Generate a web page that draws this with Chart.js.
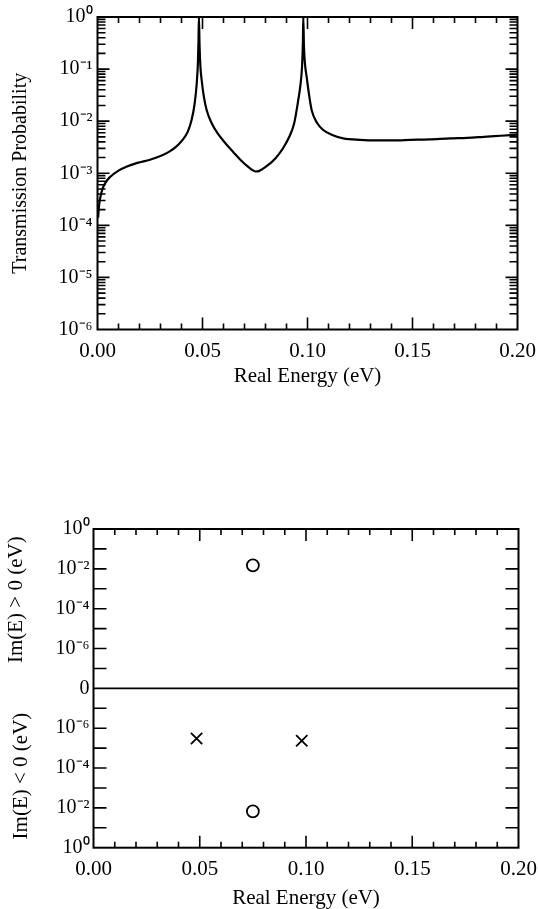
<!DOCTYPE html>
<html><head><meta charset="utf-8">
<script src="https://cdn.jsdelivr.net/npm/chart.js@4"></script>
<style>
html,body{margin:0;padding:0;background:#fff;width:538px;height:909px;overflow:hidden;}
canvas{position:absolute;left:0;}
#c1{top:0;}
#c2{top:440px;}
</style></head><body>
<canvas id="c1" width="538" height="420"></canvas>
<canvas id="c2" width="538" height="469"></canvas>
<script>
// ---------- data ----------
const energy = [0.0003, 0.0008, 0.002, 0.0035, 0.006, 0.010, 0.014, 0.019, 0.025, 0.030, 0.034, 0.0375, 0.0405, 0.043, 0.0448, 0.0462, 0.0472, 0.0478, 0.0481, 0.0483, 0.0486, 0.0490, 0.0496, 0.0506, 0.052, 0.0545, 0.0575, 0.061, 0.0648, 0.0685, 0.0715, 0.0735, 0.0752, 0.0768, 0.0785, 0.081, 0.0848, 0.0882, 0.0912, 0.0936, 0.0955, 0.0966, 0.0974, 0.0978, 0.0980, 0.0983, 0.0988, 0.0996, 0.1007, 0.102, 0.1045, 0.1075, 0.1115, 0.117, 0.125, 0.133, 0.141, 0.149, 0.158, 0.168, 0.176, 0.184, 0.192, 0.200];
const transmission = [1.41e-4, 2.51e-4, 4.47e-4, 6.31e-4, 8.51e-4, 1.12e-3, 1.35e-3, 1.58e-3, 1.82e-3, 2.14e-3, 2.57e-3, 3.24e-3, 4.37e-3, 6.31e-3, 1.05e-2, 2.09e-2, 5.01e-2, 0.126, 0.355, 1.0, 0.282, 0.112, 0.0617, 0.0302, 0.0162, 8.91e-3, 5.62e-3, 3.72e-3, 2.51e-3, 1.74e-3, 1.35e-3, 1.17e-3, 1.08e-3, 1.10e-3, 1.20e-3, 1.41e-3, 1.95e-3, 2.95e-3, 4.90e-3, 8.91e-3, 2.40e-2, 4.79e-2, 0.112, 0.316, 1.0, 0.282, 0.126, 0.0708, 0.0331, 0.0162, 9.33e-3, 6.76e-3, 5.50e-3, 4.68e-3, 4.37e-3, 4.27e-3, 4.27e-3, 4.37e-3, 4.47e-3, 4.68e-3, 4.79e-3, 5.01e-3, 5.25e-3, 5.50e-3];

const xTickValues = [0, 0.05, 0.10, 0.15, 0.20];
const xTickLabels = ['0.00', '0.05', '0.10', '0.15', '0.20'];
const tTickValues = [1e-6, 1e-5, 1e-4, 1e-3, 1e-2, 1e-1, 1];
const tTickLabels = ['10⁻⁶', '10⁻⁵', '10⁻⁴', '10⁻³', '10⁻²', '10⁻¹', '10⁰'];

const poleEnergy = [0.075, 0.075];
const poleImag = [0.015, -0.015];
const zeroEnergy = [0.0485, 0.098];
const zeroImag = [-3.3e-6, -4.3e-6];

const imTickValues = [-8, -7, -6, -5, -4, -3, -2, -1, 0, 1, 2, 3, 4, 5, 6, 7, 8];
const imTickLabels = ['10⁰', '', '10⁻²', '', '10⁻⁴', '', '10⁻⁶', '', '0', '', '10⁻⁶', '', '10⁻⁴', '', '10⁻²', '', '10⁰'];

// ---------- helpers ----------
const SERIF = '"Liberation Serif", "Times New Roman", Times, serif';
Chart.defaults.font.family = SERIF;
Chart.defaults.font.size = 21;
Chart.defaults.color = '#000';

// Im(E) -> symmetric log axis position (0 line = 1e-8)
function imToAxis(v) { return Math.sign(v) * (Math.log10(Math.abs(v)) + 8); }

function drawTick(ctx, x1, y1, x2, y2) { ctx.moveTo(x1, y1); ctx.lineTo(x2, y2); }

function xTicksPlugin(ctx, x, a) {
  for (let i = 1; i < 20; i++) {
    const px = x.getPixelForValue(i / 100);
    const L = (i % 5 === 0) ? 12 : 6;
    drawTick(ctx, px, a.bottom, px, a.bottom - L);
    drawTick(ctx, px, a.top, px, a.top + L);
  }
}

const topFrame = {
  id: 'topFrame',
  afterDatasetsDraw(chart) {
    const {ctx, chartArea: a, scales: {x, y}} = chart;
    ctx.save();
    ctx.strokeStyle = '#000';
    ctx.lineWidth = 1.6;
    ctx.beginPath();
    xTicksPlugin(ctx, x, a);
    for (let d = -6; d < 0; d++) {
      for (let k = 1; k <= 9; k++) {
        if (k === 1 && d === -6) continue;
        const v = k * Math.pow(10, d);
        const py = y.getPixelForValue(v);
        const L = (k === 1) ? 12 : 8;
        drawTick(ctx, a.left, py, a.left + L, py);
        drawTick(ctx, a.right, py, a.right - L, py);
      }
    }
    ctx.stroke();
    ctx.lineWidth = 2;
    ctx.strokeRect(a.left, a.top, a.right - a.left, a.bottom - a.top);
    ctx.restore();
  }
};

const bottomFrame = {
  id: 'bottomFrame',
  afterDatasetsDraw(chart) {
    const {ctx, chartArea: a, scales: {x, y}} = chart;
    ctx.save();
    ctx.strokeStyle = '#000';
    ctx.lineWidth = 1.6;
    ctx.beginPath();
    xTicksPlugin(ctx, x, a);
    for (let v = -7; v <= 7; v++) {
      if (v === 0) continue;
      const py = y.getPixelForValue(v);
      drawTick(ctx, a.left, py, a.left + 13, py);
      drawTick(ctx, a.right, py, a.right - 13, py);
    }
    ctx.stroke();
    const y0 = y.getPixelForValue(0);
    ctx.beginPath();
    ctx.lineWidth = 1.8;
    ctx.moveTo(a.left, y0); ctx.lineTo(a.right, y0);
    ctx.stroke();
    ctx.lineWidth = 2;
    ctx.strokeRect(a.left, a.top, a.right - a.left, a.bottom - a.top);
    // axis titles for the two halves
    ctx.fillStyle = '#000';
    ctx.font = '21px ' + SERIF;
    ctx.textAlign = 'center';
    ctx.textBaseline = 'middle';
    const yUp = (a.top + y0) / 2 - 9;
    const yDn = (y0 + a.bottom) / 2 + 8;
    ctx.save(); ctx.translate(16, yUp); ctx.rotate(-Math.PI / 2);
    ctx.fillText('Im(E) > 0 (eV)', 0, 0); ctx.restore();
    ctx.save(); ctx.translate(21, yDn); ctx.rotate(-Math.PI / 2);
    ctx.fillText('Im(E) < 0 (eV)', 0, 0); ctx.restore();
    ctx.restore();
  }
};

const xScaleCommon = (height) => ({
  type: 'linear', min: 0, max: 0.2,
  afterBuildTicks: s => { s.ticks = xTickValues.map(v => ({value: v})); },
  afterFit: s => { s.height = height; s.paddingLeft = 0; s.paddingRight = 0; },
  ticks: {
    autoSkip: false, maxRotation: 0, padding: 9,
    font: {size: 21},
    callback: (v, i) => xTickLabels[i]
  },
  grid: {display: false, drawTicks: false},
  border: {display: false},
  title: {display: true, text: 'Real Energy (eV)', font: {size: 21, lineHeight: 1}, padding: {top: 0, bottom: 0}}
});

// ---------- top chart ----------
const topX = xScaleCommon(90.5);
topX.title.padding = {top: 0, bottom: 33};
new Chart(document.getElementById('c1'), {
  type: 'scatter',
  data: {
    datasets: [{
      data: energy.map((e, i) => ({x: e, y: transmission[i]})),
      showLine: true, pointRadius: 0, borderColor: '#000', borderWidth: 2.2,
      cubicInterpolationMode: 'monotone', fill: false
    }]
  },
  options: {
    responsive: false, animation: false, events: [],
    layout: {padding: {left: 0, top: 17, right: 20.5, bottom: 0}},
    plugins: {legend: {display: false}, tooltip: {enabled: false}},
    scales: {
      x: topX,
      y: {
        type: 'logarithmic', min: 1e-6, max: 1,
        afterBuildTicks: s => { s.ticks = tTickValues.map(v => ({value: v})); },
        afterFit: s => { s.width = 97.5; s.paddingTop = 0; s.paddingBottom = 0; },
        ticks: {autoSkip: false, padding: 5, font: {size: 20},
          callback: (v, i) => tTickLabels[i]},
        grid: {display: false, drawTicks: false},
        border: {display: false},
        title: {display: true, text: 'Transmission Probability', font: {size: 20, lineHeight: 1}, padding: {top: 11, bottom: 0}}
      }
    }
  },
  plugins: [topFrame]
});

// ---------- bottom chart ----------
const botX = xScaleCommon(61.3);
botX.title.padding = {top: 0, bottom: 0.5};
new Chart(document.getElementById('c2'), {
  type: 'scatter',
  data: {
    datasets: [
      {
        data: poleEnergy.map((e, i) => ({x: e, y: imToAxis(poleImag[i])})),
        pointStyle: 'circle', pointRadius: 6, borderColor: '#000', borderWidth: 1.8,
        backgroundColor: 'rgba(0,0,0,0)'
      },
      {
        data: zeroEnergy.map((e, i) => ({x: e, y: imToAxis(zeroImag[i])})),
        pointStyle: 'crossRot', pointRadius: 8, borderColor: '#000', borderWidth: 1.8,
        backgroundColor: 'rgba(0,0,0,0)'
      }
    ]
  },
  options: {
    responsive: false, animation: false, events: [],
    layout: {padding: {left: 0, top: 89, right: 19.5, bottom: 0}},
    plugins: {legend: {display: false}, tooltip: {enabled: false}},
    scales: {
      x: botX,
      y: {
        type: 'linear', min: -8, max: 8,
        afterBuildTicks: s => { s.ticks = imTickValues.map(v => ({value: v})); },
        afterFit: s => { s.width = 93.5; s.paddingTop = 0; s.paddingBottom = 0; },
        ticks: {autoSkip: false, padding: 4, font: {size: 20},
          callback: (v, i) => imTickLabels[i]},
        grid: {display: false, drawTicks: false},
        border: {display: false},
        title: {display: false}
      }
    }
  },
  plugins: [bottomFrame]
});
</script>
</body></html>
